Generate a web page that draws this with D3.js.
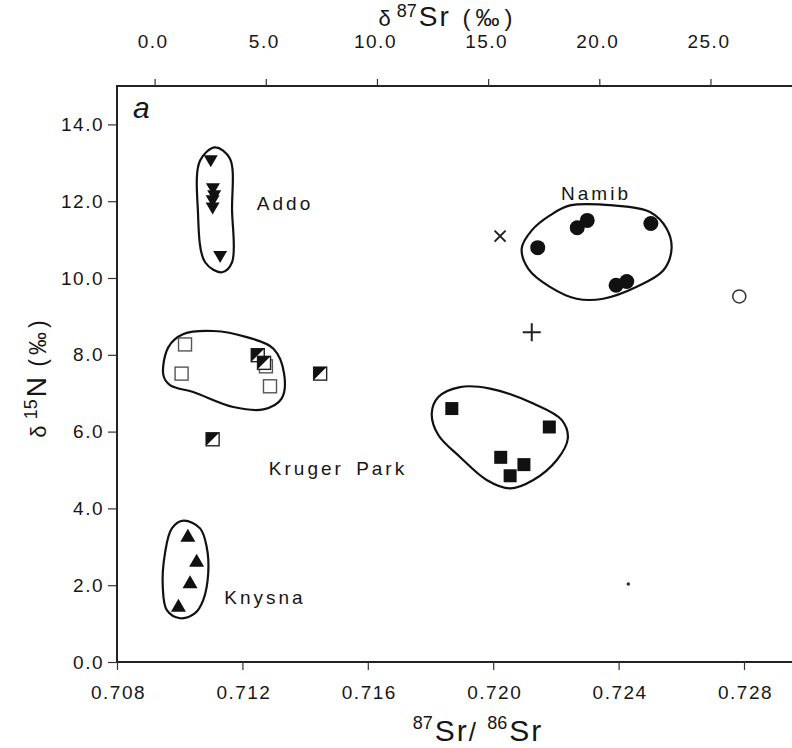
<!DOCTYPE html>
<html>
<head>
<meta charset="utf-8">
<script src="https://cdn.jsdelivr.net/npm/d3@7"></script>
<style>
    body { margin: 0; background: #fff; }
    svg text { font-family: "Liberation Sans", Arial, sans-serif; fill: #161616; }
</style>
</head>
<body>
<svg id="chart" width="792" height="748"></svg>
<script>
// Axis ticks
const ratioTicks = [0.708, 0.712, 0.716, 0.720, 0.724, 0.728];
const deltaTicks = [0, 5, 10, 15, 20, 25];
const n15Ticks = [0, 2, 4, 6, 8, 10, 12, 14];
const seawaterSr = 0.7092;
const ratioFrameMax = 0.7297;

// Samples: [87Sr/86Sr, d15N]
const addo = [[0.71099, 13.04], [0.71106, 12.31], [0.71110, 12.13], [0.71105, 12.00], [0.71105, 11.81], [0.71129, 10.55]];
const knysna = [[0.71026, 3.30], [0.71054, 2.65], [0.71033, 2.09], [0.70996, 1.48]];
const krugerOpen = [[0.71017, 8.27], [0.71006, 7.51], [0.71288, 7.18], [0.71275, 7.70]];
const krugerHalf = [[0.71249, 7.99], [0.71269, 7.79], [0.71448, 7.51], [0.71105, 5.80]];
const krugerFilled = [[0.71868, 6.60], [0.72179, 6.12], [0.72024, 5.33], [0.72098, 5.14], [0.72054, 4.85]];
const namib = [[0.72142, 10.79], [0.72268, 11.31], [0.72300, 11.50], [0.72503, 11.42], [0.72392, 9.81], [0.72426, 9.91]];
const crossPts = [[0.72022, 11.09]];
const plusPts = [[0.72123, 8.59]];
const openCircle = [[0.72785, 9.52]];
const smallDot = [[0.72431, 2.03]];

// Hand-drawn group outlines
const addoLoop = [[0.71065, 13.06], [0.71113, 13.40], [0.71160, 13.11], [0.71167, 11.76], [0.71167, 10.41], [0.71135, 10.15], [0.71081, 10.41], [0.71058, 11.76]];
const krugerLoop = [[0.70948, 7.47], [0.70964, 8.20], [0.71012, 8.54], [0.71107, 8.62], [0.71214, 8.46], [0.71299, 8.16], [0.71333, 7.51], [0.71325, 6.86], [0.71267, 6.58], [0.71171, 6.64], [0.71043, 7.03], [0.70969, 7.21]];
const krugerEastLoop = [[0.71804, 6.47], [0.71825, 6.90], [0.71894, 7.16], [0.71990, 7.12], [0.72128, 6.73], [0.72219, 6.30], [0.72238, 5.82], [0.72203, 5.26], [0.72128, 4.74], [0.72054, 4.52], [0.71979, 4.74], [0.71894, 5.34], [0.71825, 5.91]];
const namibLoop = [[0.72091, 10.77], [0.72123, 11.24], [0.72181, 11.63], [0.72245, 11.89], [0.72383, 11.89], [0.72500, 11.72], [0.72553, 11.29], [0.72569, 10.77], [0.72543, 10.20], [0.72458, 9.77], [0.72351, 9.46], [0.72266, 9.46], [0.72181, 9.77], [0.72112, 10.24]];
const knysnaLoop = [[0.71012, 3.68], [0.71065, 3.48], [0.71086, 3.00], [0.71091, 2.31], [0.71075, 1.61], [0.71049, 1.27], [0.71001, 1.14], [0.70959, 1.35], [0.70946, 1.96], [0.70953, 2.83], [0.70975, 3.48]];

const groupNames = ['Addo', 'Namib', 'Kruger Park', 'Knysna'];
const groupLabelPos = [[0.71336, 11.94], [0.72328, 12.20], [0.71505, 5.05], [0.71272, 1.69]];

const svg = d3.select('#chart');

const x = d3.scaleLinear().domain([0.708, 0.728]).range([117, 744]);
const y = d3.scaleLinear().domain([0, 15]).range([662, 86]);
// top axis: delta87Sr relative to seawater
const xDelta = d3.scaleLinear()
    .domain(x.domain().map(r => (r / seawaterSr - 1) * 1000))
    .range(x.range());

// Frame
svg.append('path')
    .attr('d', `M${x(ratioFrameMax)},${y(15)}H${x.range()[0]}V${y(0)}H${x(ratioFrameMax)}`)
    .attr('fill', 'none')
    .attr('stroke', '#222')
    .attr('stroke-width', 2);

function styleAxis(g) {
    g.select('.domain').remove();
    g.selectAll('.tick line').attr('stroke', '#333').attr('stroke-width', 1.2);
    g.selectAll('.tick text')
        .attr('font-family', '"Liberation Sans", Arial, sans-serif')
        .attr('font-size', 19)
        .attr('letter-spacing', 1.5)
        .attr('fill', '#161616');
}

svg.append('g')
    .attr('transform', `translate(0,${y(0)})`)
    .call(d3.axisBottom(x).tickValues(ratioTicks).tickFormat(d3.format('.3f'))
        .tickSizeInner(8).tickSizeOuter(0).tickPadding(16))
    .call(styleAxis)
    .call(g => g.selectAll('.tick text').attr('dx', 1));

svg.append('g')
    .attr('transform', `translate(0,${y(15)})`)
    .call(d3.axisTop(xDelta).tickValues(deltaTicks).tickFormat(d3.format('.1f'))
        .tickSizeInner(7).tickSizeOuter(0).tickPadding(31))
    .call(styleAxis)
    .call(g => g.selectAll('.tick text').attr('dx', -2));

svg.append('g')
    .attr('transform', `translate(${x.range()[0]},0)`)
    .call(d3.axisLeft(y).tickValues(n15Ticks).tickFormat(d3.format('.1f'))
        .tickSizeInner(9).tickSizeOuter(0).tickPadding(4))
    .call(styleAxis);

// Axis titles
const topTitle = svg.append('text').attr('x', 448).attr('y', 26).attr('text-anchor', 'middle');
topTitle.append('tspan').attr('font-size', 22).text('δ ');
topTitle.append('tspan').attr('font-size', 18).attr('dy', -9).text('87');
topTitle.append('tspan').attr('font-size', 28).attr('dy', 9).attr('dx', 2).attr('letter-spacing', 2).text('Sr');
topTitle.append('tspan').attr('font-size', 24).attr('letter-spacing', 5).text(' (‰)');

const bottomTitle = svg.append('text').attr('x', 478).attr('y', 741).attr('text-anchor', 'middle');
bottomTitle.append('tspan').attr('font-size', 18).attr('dy', -12).text('87');
bottomTitle.append('tspan').attr('font-size', 30).attr('dy', 12).attr('dx', 2).attr('letter-spacing', 2).text('Sr');
bottomTitle.append('tspan').attr('font-size', 26).attr('letter-spacing', 2).text('/ ');
bottomTitle.append('tspan').attr('font-size', 18).attr('dy', -12).text('86');
bottomTitle.append('tspan').attr('font-size', 30).attr('dy', 12).attr('dx', 2).attr('letter-spacing', 2).text('Sr');

const leftTitle = svg.append('text')
    .attr('transform', 'translate(46,377) rotate(-90)')
    .attr('text-anchor', 'middle');
leftTitle.append('tspan').attr('font-size', 22).text('δ ');
leftTitle.append('tspan').attr('font-size', 18).attr('dy', -9).text('15');
leftTitle.append('tspan').attr('font-size', 28).attr('dy', 9).attr('dx', 2).text('N');
leftTitle.append('tspan').attr('font-size', 23).attr('letter-spacing', 4).text(' (‰)');

// Panel letter
svg.append('text')
    .attr('x', 133).attr('y', 118)
    .attr('font-family', '"Liberation Serif", "DejaVu Serif", serif')
    .attr('font-style', 'italic')
    .attr('font-size', 30)
    .text('a');

// Outlines
const loopLine = d3.line()
    .x(d => x(d[0]))
    .y(d => y(d[1]))
    .curve(d3.curveCatmullRomClosed.alpha(0.5));

svg.append('g')
    .selectAll('path')
    .data([addoLoop, krugerLoop, krugerEastLoop, namibLoop, knysnaLoop])
    .join('path')
    .attr('d', loopLine)
    .attr('fill', 'none')
    .attr('stroke', '#111')
    .attr('stroke-width', 2.2)
    .attr('stroke-linejoin', 'round');

// Group labels
svg.append('g')
    .selectAll('text')
    .data(groupNames)
    .join('text')
    .attr('x', (d, i) => x(groupLabelPos[i][0]))
    .attr('y', (d, i) => y(groupLabelPos[i][1]))
    .attr('dy', '0.36em')
    .attr('text-anchor', 'middle')
    .attr('font-size', 19)
    .attr('letter-spacing', 3)
    .attr('word-spacing', 4)
    .text(d => d);

const pos = d => `translate(${x(d[0])},${y(d[1])})`;

function triangle(w, h, down) {
    return down
        ? `M${-w / 2},${-h / 2}L${w / 2},${-h / 2}L0,${h / 2}Z`
        : `M${-w / 2},${h / 2}L${w / 2},${h / 2}L0,${-h / 2}Z`;
}

// Addo - filled down triangles
svg.append('g').selectAll('path').data(addo).join('path')
    .attr('transform', pos)
    .attr('d', triangle(14, 12, true))
    .attr('fill', '#111');

// Knysna - filled up triangles
svg.append('g').selectAll('path').data(knysna).join('path')
    .attr('transform', pos)
    .attr('d', triangle(15, 13, false))
    .attr('fill', '#111');

// Kruger - open squares
const sq = 13;
svg.append('g').selectAll('rect').data(krugerOpen).join('rect')
    .attr('transform', pos)
    .attr('x', -sq / 2).attr('y', -sq / 2)
    .attr('width', sq).attr('height', sq)
    .attr('fill', '#fff')
    .attr('stroke', '#555')
    .attr('stroke-width', 1.4);

// Kruger - half filled squares
const half = svg.append('g').selectAll('g').data(krugerHalf).join('g')
    .attr('transform', pos);
half.append('rect')
    .attr('x', -sq / 2).attr('y', -sq / 2)
    .attr('width', sq).attr('height', sq)
    .attr('fill', '#fff')
    .attr('stroke', '#222')
    .attr('stroke-width', 1.4);
half.append('path')
    .attr('d', `M${-sq / 2},${-sq / 2}L${sq / 2},${-sq / 2}L${-sq / 2},${sq / 2}Z`)
    .attr('fill', '#111');

// Kruger east - filled squares
svg.append('g').selectAll('rect').data(krugerFilled).join('rect')
    .attr('transform', pos)
    .attr('x', -sq / 2).attr('y', -sq / 2)
    .attr('width', sq).attr('height', sq)
    .attr('fill', '#111');

// Namib - filled circles
svg.append('g').selectAll('circle').data(namib).join('circle')
    .attr('transform', pos)
    .attr('r', 7.5)
    .attr('fill', '#111');

// Singles
svg.append('g').selectAll('circle').data(openCircle).join('circle')
    .attr('transform', pos)
    .attr('r', 6.5)
    .attr('fill', '#fff')
    .attr('stroke', '#333')
    .attr('stroke-width', 1.5);

svg.append('g').selectAll('path').data(crossPts).join('path')
    .attr('transform', pos)
    .attr('d', 'M-5.5,-5.5L5.5,5.5M5.5,-5.5L-5.5,5.5')
    .attr('stroke', '#222')
    .attr('stroke-width', 2);

svg.append('g').selectAll('path').data(plusPts).join('path')
    .attr('transform', pos)
    .attr('d', 'M-9,0H9M0,-9V9')
    .attr('stroke', '#222')
    .attr('stroke-width', 2);

svg.append('g').selectAll('circle').data(smallDot).join('circle')
    .attr('transform', pos)
    .attr('r', 1.8)
    .attr('fill', '#333');
</script>
</body>
</html>
